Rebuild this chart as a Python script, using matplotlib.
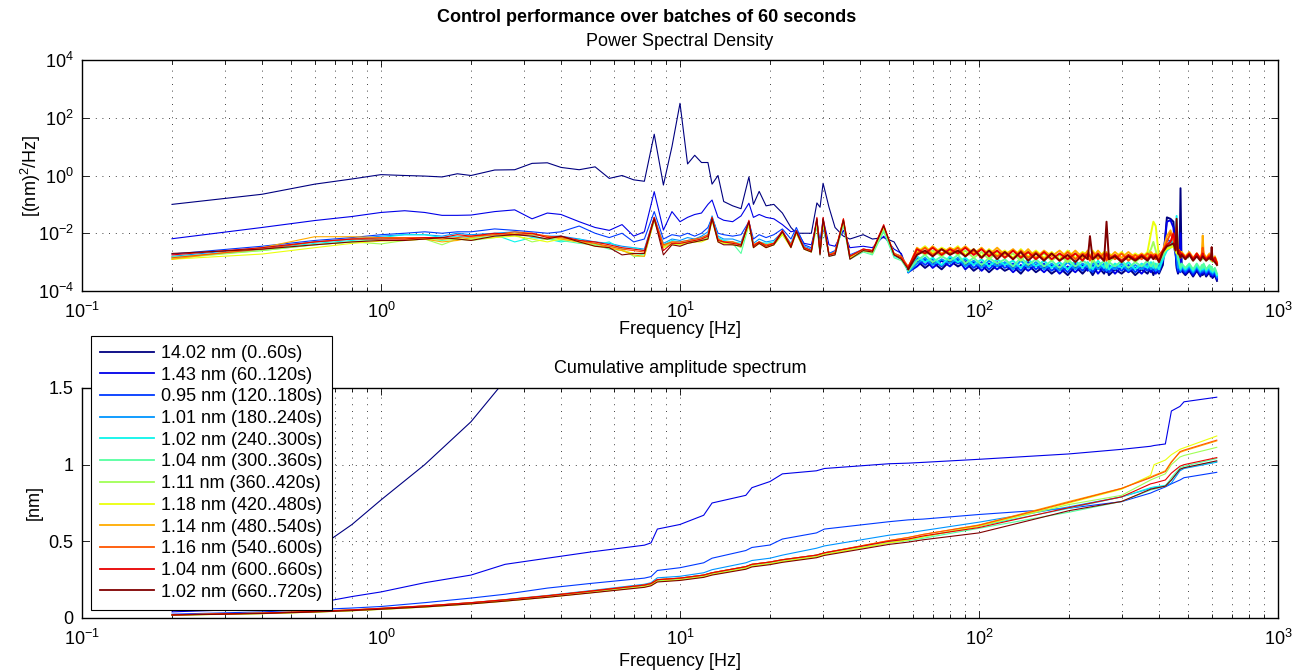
import numpy as np
import matplotlib
matplotlib.use('Agg')
import matplotlib.pyplot as plt
import matplotlib.ticker as ticker

plt.rcParams['font.family'] = ['Liberation Sans', 'DejaVu Sans']
plt.rcParams['mathtext.fontset'] = 'custom'
plt.rcParams['mathtext.rm'] = 'Liberation Sans'
plt.rcParams['mathtext.it'] = 'Liberation Sans:italic'
plt.rcParams['mathtext.bf'] = 'Liberation Sans:bold'
plt.rcParams['font.size'] = 13

# ---- frequency grids [Hz] ----
psd_freq = [0.2, 0.4, 0.6, 0.8, 1.0, 1.2, 1.4,
            1.6, 1.8, 2.0, 2.4, 2.8, 3.2, 3.6,
            4.0, 4.6, 5.2, 5.8, 6.4, 7.0, 7.6,
            8.2, 8.8, 9.4, 10.0, 10.6, 11.2, 11.8, 12.4, 12.8,
            13.4, 14.0, 15.0, 16.0, 17.0, 17.6, 18.4, 19.4, 20.6,
            22.0, 23.5, 24.5, 26.0, 27.5, 28.7, 29.4, 30.1, 31.5,
            33.0, 35.2, 37.0, 41.0, 44.0, 48.0, 52.0, 55.0, 58.0,
            62, 66, 70, 75, 80, 85, 90, 96,
            102, 108, 115, 122, 130, 138, 146, 155,
            165, 175, 186, 198, 210, 222, 231, 235,
            240, 250, 262, 267, 272, 285, 300, 316,
            333, 350, 366, 376, 383, 390, 400, 412,
            425, 437, 447, 454, 458, 463, 468, 472,
            476, 490, 505, 520, 535, 550, 556, 560,
            564, 575, 590, 596, 600, 604, 615, 625]

cas_freq = [0.2, 0.4, 0.6, 0.8, 1.0, 1.4, 2.0,
            2.6, 3.6, 5.0, 7.6, 8.0, 8.4, 10.0,
            12.0, 12.8, 16.6, 17.4, 20.0, 22.0, 28.6,
            30.4, 50, 58, 65, 100, 200, 300,
            375, 385, 420, 440, 470, 485, 624]

labels = ['14.02 nm (0..60s)', '1.43 nm (60..120s)', '0.95 nm (120..180s)',
          '1.01 nm (180..240s)', '1.02 nm (240..300s)', '1.04 nm (300..360s)',
          '1.11 nm (360..420s)', '1.18 nm (420..480s)', '1.14 nm (480..540s)',
          '1.16 nm (540..600s)', '1.04 nm (600..660s)', '1.02 nm (660..720s)']

# ---- PSD, log10 of (nm)^2/Hz, one list per 60 s batch ----
psd_b01 = [-1.0, -0.65, -0.3, -0.12, 0.03, 0.0, -0.02,
           -0.05, 0.06, 0.0, 0.19, 0.2, 0.42, 0.44,
           0.28, 0.2, 0.3, -0.1, 0.0, -0.15, -0.2,
           1.43, -0.33, 1.0, 2.5, 0.4, 0.7, 0.45, 0.45, -0.3,
           0.0, -0.9, -1.05, -1.15, -0.05, -1.0, -0.55, -1.05, -1.0,
           -1.3, -1.8, -2.0, -2.0, -2.0, -0.95, -1.1, -0.27, -1.1,
           -1.8, -2.1, -2.2, -2.05, -2.2, -2.15, -2.3, -2.75, -3.3,
           -2.95, -3.2, -3.0, -3.25, -2.95, -3.15, -3.0, -3.3,
           -3.1, -3.35, -3.1, -3.3, -3.15, -3.4, -3.1, -3.35,
           -3.15, -3.4, -3.2, -3.45, -3.15, -3.4, -3.2, -3.3,
           -3.45, -3.15, -3.4, -3.2, -3.45, -3.25, -3.4, -3.2,
           -3.45, -3.25, -3.4, -3.2, -3.45, -3.25, -3.4, -3.1,
           -1.45, -1.5, -1.6, -2.6, -3.2, -3.4, -3.3, -0.44,
           -3.3, -3.45, -3.3, -3.5, -3.3, -3.5, -3.35, -3.45,
           -3.3, -3.5, -3.35, -3.5, -3.4, -3.55, -3.45, -3.65]
psd_b02 = [-2.19, -1.8, -1.56, -1.42, -1.28, -1.22, -1.28,
           -1.38, -1.38, -1.37, -1.25, -1.19, -1.5, -1.3,
           -1.35, -1.6, -1.8, -1.9, -1.7, -2.1, -1.95,
           -0.56, -1.89, -1.25, -1.6, -1.45, -1.35, -1.3, -1.0, -0.85,
           -1.45, -1.55, -1.6, -1.4, -0.96, -1.45, -1.35, -1.45, -1.5,
           -1.7, -1.95, -1.9, -2.35, -2.4, -1.6, -2.3, -1.5, -2.4,
           -2.45, -1.9, -2.5, -2.45, -2.5, -2.1, -2.55, -2.7, -3.35,
           -3.15, -2.9, -3.2, -2.95, -3.15, -2.9, -3.25, -3.0,
           -3.3, -3.05, -3.25, -3.05, -3.35, -3.1, -3.3, -3.1,
           -3.35, -3.1, -3.4, -3.15, -3.35, -3.1, -3.3, -3.15,
           -3.1, -3.4, -3.15, -3.35, -3.15, -3.4, -3.15, -3.35,
           -3.2, -3.4, -3.15, -3.35, -3.2, -3.4, -3.15, -3.0,
           -1.6, -1.55, -1.8, -2.6, -3.1, -3.35, -3.25, -2.0,
           -3.25, -3.4, -3.25, -3.45, -3.25, -3.45, -3.3, -3.4,
           -3.25, -3.45, -3.3, -3.45, -3.35, -3.5, -3.4, -3.6]
psd_b03 = [-2.72, -2.45, -2.25, -2.15, -2.05, -2.0, -1.95,
           -2.0, -1.95, -1.95, -1.85, -1.9, -1.95, -2.0,
           -1.95, -1.75, -2.0, -2.15, -2.0, -2.3, -2.2,
           -1.25, -2.2, -2.05, -2.1, -2.0, -2.1, -2.0, -1.8, -1.45,
           -2.0, -2.05, -2.1, -2.05, -1.6, -2.2, -2.05, -2.15, -2.05,
           -1.85, -2.2, -1.8, -2.4, -2.5, -1.7, -2.6, -1.8, -2.7,
           -2.6, -1.7, -2.75, -2.55, -2.6, -1.9, -2.7, -2.8, -3.3,
           -2.85, -3.1, -2.9, -3.15, -2.85, -3.05, -2.9, -3.2,
           -3.0, -3.25, -3.0, -3.2, -3.05, -3.3, -3.0, -3.25,
           -3.05, -3.3, -3.1, -3.35, -3.05, -3.3, -3.1, -3.2,
           -3.35, -3.05, -3.3, -3.1, -3.35, -3.15, -3.3, -3.1,
           -3.35, -3.15, -3.3, -3.1, -3.3, -3.15, -3.35, -2.9,
           -2.2, -2.3, -2.4, -2.7, -2.9, -3.3, -3.2, -3.35,
           -3.2, -3.35, -3.2, -3.4, -3.2, -3.4, -3.25, -3.35,
           -3.2, -3.4, -3.25, -3.4, -3.3, -3.45, -3.35, -3.55]
psd_b04 = [-2.8, -2.5, -2.3, -2.2, -2.1, -2.05, -2.05,
           -2.1, -2.0, -2.05, -2.0, -1.95, -2.05, -2.1,
           -2.1, -2.2, -2.3, -2.35, -2.45, -2.5, -2.55,
           -1.45, -2.35, -2.2, -2.25, -2.15, -2.2, -2.1, -1.95, -1.4,
           -2.1, -2.2, -2.2, -2.3, -1.6, -2.35, -2.2, -2.3, -2.25,
           -1.95, -2.35, -1.9, -2.45, -2.55, -1.6, -2.65, -1.7, -2.7,
           -2.65, -1.6, -2.8, -2.6, -2.65, -1.85, -2.75, -2.85, -3.35,
           -3.05, -2.85, -3.1, -2.9, -3.05, -2.85, -3.15, -2.95,
           -3.2, -2.95, -3.15, -3.0, -3.25, -2.95, -3.2, -3.0,
           -3.25, -3.05, -3.3, -3.0, -3.25, -3.05, -3.15, -3.3,
           -3.0, -3.25, -3.05, -3.3, -3.1, -3.25, -3.05, -3.3,
           -3.1, -3.25, -3.05, -3.25, -3.1, -3.3, -3.1, -2.85,
           -2.4, -2.3, -2.2, -2.5, -2.6, -3.2, -3.15, -3.3,
           -3.15, -3.3, -3.15, -3.35, -3.15, -3.35, -3.2, -3.3,
           -3.15, -3.35, -3.2, -3.35, -3.25, -3.4, -3.3, -3.5]
psd_b05 = [-2.85, -2.55, -2.35, -2.25, -2.15, -2.05, -2.05,
           -2.15, -2.1, -2.15, -2.05, -2.3, -2.15, -2.2,
           -2.3, -2.2, -2.4, -2.3, -2.55, -2.5, -2.6,
           -1.5, -2.4, -2.25, -2.3, -2.25, -2.2, -2.15, -2.05, -1.45,
           -2.15, -2.25, -2.3, -2.35, -1.65, -2.4, -2.3, -2.35, -2.3,
           -2.0, -2.4, -1.95, -2.5, -2.6, -1.7, -2.7, -1.6, -2.75,
           -2.7, -1.65, -2.85, -2.6, -2.7, -1.9, -2.8, -2.9, -3.3,
           -2.8, -3.0, -2.85, -3.1, -2.8, -3.0, -2.85, -3.1,
           -2.9, -3.15, -2.9, -3.1, -2.95, -3.2, -2.9, -3.15,
           -2.95, -3.2, -3.0, -3.25, -2.95, -3.2, -3.0, -3.1,
           -3.25, -2.95, -3.2, -3.0, -3.25, -3.05, -3.2, -3.0,
           -3.25, -3.05, -3.2, -3.0, -3.2, -3.05, -3.25, -2.9,
           -2.6, -2.5, -2.2, -2.4, -1.4, -2.6, -3.1, -3.25,
           -3.1, -3.25, -3.1, -3.3, -3.1, -3.3, -3.15, -3.25,
           -3.1, -3.3, -3.15, -3.3, -3.2, -3.35, -3.25, -3.45]
psd_b06 = [-2.82, -2.6, -2.4, -2.3, -2.2, -2.15, -2.2,
           -2.25, -2.2, -2.2, -2.1, -2.05, -2.1, -2.2,
           -2.25, -2.35, -2.4, -2.55, -2.6, -2.7, -2.75,
           -1.55, -2.5, -2.35, -2.4, -2.35, -2.3, -2.25, -2.15, -1.5,
           -2.25, -2.35, -2.35, -2.7, -1.7, -2.45, -2.35, -2.45, -2.4,
           -2.05, -2.45, -2.0, -2.55, -2.65, -1.75, -2.75, -1.65, -2.8,
           -2.75, -1.7, -2.9, -2.65, -2.75, -1.95, -2.85, -2.95, -3.3,
           -2.95, -2.75, -3.0, -2.8, -2.95, -2.75, -3.05, -2.85,
           -3.1, -2.85, -3.05, -2.9, -3.15, -2.85, -3.1, -2.9,
           -3.15, -2.95, -3.2, -2.9, -3.15, -2.95, -3.05, -3.2,
           -2.9, -3.15, -2.95, -3.2, -3.0, -3.15, -2.95, -3.2,
           -3.0, -3.15, -2.95, -3.15, -3.0, -3.2, -3.0, -2.8,
           -2.5, -2.45, -2.4, -2.6, -2.5, -2.9, -3.05, -3.2,
           -3.05, -3.2, -3.05, -3.25, -3.05, -3.25, -3.1, -3.2,
           -3.05, -3.25, -3.1, -3.25, -3.15, -3.3, -3.2, -3.4]
psd_b07 = [-2.88, -2.6, -2.4, -2.3, -2.37, -2.25, -2.2,
           -2.4, -2.2, -2.25, -2.15, -2.05, -2.3, -2.2,
           -2.15, -2.3, -2.4, -2.45, -2.55, -2.8, -2.8,
           -1.55, -2.45, -2.35, -2.4, -2.3, -2.3, -2.25, -2.15, -1.55,
           -2.25, -2.35, -2.35, -2.5, -1.7, -2.45, -2.35, -2.45, -2.4,
           -2.0, -2.45, -2.0, -2.55, -2.6, -1.65, -2.7, -1.7, -2.75,
           -2.7, -1.65, -2.85, -2.6, -2.7, -1.85, -2.75, -2.9, -3.25,
           -2.55, -2.75, -2.6, -2.8, -2.55, -2.75, -2.6, -2.85,
           -2.65, -2.9, -2.65, -2.85, -2.7, -2.95, -2.65, -2.9,
           -2.7, -2.95, -2.75, -3.0, -2.7, -2.95, -2.75, -2.85,
           -3.0, -2.7, -2.95, -2.75, -3.0, -2.8, -2.95, -2.75,
           -3.0, -2.8, -2.75, -2.55, -2.3, -2.6, -2.95, -2.7,
           -2.5, -2.45, -2.35, -2.55, -2.6, -2.75, -2.7, -2.85,
           -2.7, -2.9, -2.75, -2.95, -2.75, -2.95, -2.8, -2.9,
           -2.75, -2.95, -2.8, -2.95, -2.85, -3.0, -2.9, -3.1]
psd_b08 = [-2.9, -2.72, -2.5, -2.35, -2.27, -2.25, -2.2,
           -2.2, -2.2, -2.2, -2.15, -2.1, -2.2, -2.3,
           -2.2, -2.3, -2.45, -2.5, -2.6, -2.7, -2.7,
           -1.55, -2.5, -2.4, -2.4, -2.35, -2.3, -2.3, -2.2, -1.55,
           -2.3, -2.35, -2.4, -2.45, -1.7, -2.5, -2.35, -2.5, -2.4,
           -2.05, -2.5, -2.0, -2.55, -2.65, -1.6, -2.7, -1.6, -2.75,
           -2.7, -1.6, -2.85, -2.6, -2.65, -1.8, -2.7, -2.85, -3.2,
           -2.65, -2.45, -2.7, -2.5, -2.65, -2.45, -2.75, -2.55,
           -2.8, -2.55, -2.75, -2.6, -2.85, -2.55, -2.8, -2.6,
           -2.85, -2.65, -2.9, -2.6, -2.85, -2.65, -2.75, -2.9,
           -2.6, -2.85, -2.65, -2.9, -2.7, -2.85, -2.65, -2.9,
           -2.7, -2.85, -2.65, -2.0, -1.6, -1.75, -2.85, -2.65,
           -2.55, -2.5, -2.45, -2.6, -2.7, -2.7, -2.65, -2.8,
           -2.65, -2.85, -2.7, -2.9, -2.7, -2.9, -2.75, -2.8,
           -2.7, -2.9, -2.75, -2.9, -2.8, -2.95, -2.85, -3.05]
psd_b09 = [-2.9, -2.5, -2.12, -2.12, -2.15, -2.2, -2.2,
           -2.3, -2.25, -2.15, -2.05, -2.0, -2.05, -2.1,
           -2.2, -2.3, -2.35, -2.5, -2.6, -2.75, -2.8,
           -1.5, -2.45, -2.3, -2.35, -2.3, -2.25, -2.2, -2.1, -1.5,
           -2.2, -2.3, -2.3, -2.4, -1.65, -2.4, -2.3, -2.4, -2.35,
           -1.95, -2.4, -1.95, -2.5, -2.6, -1.55, -2.65, -1.55, -2.75,
           -2.65, -1.55, -2.8, -2.55, -2.6, -1.75, -2.7, -2.8, -3.2,
           -2.5, -2.7, -2.45, -2.7, -2.5, -2.65, -2.45, -2.7,
           -2.5, -2.75, -2.5, -2.75, -2.55, -2.8, -2.55, -2.85,
           -2.6, -2.8, -2.6, -2.85, -2.6, -2.85, -2.6, -2.75,
           -2.85, -2.6, -2.85, -2.65, -2.85, -2.65, -2.85, -2.65,
           -2.85, -2.7, -2.85, -2.65, -2.75, -2.7, -2.85, -2.6,
           -2.1, -1.9, -2.2, -2.5, -1.8, -2.55, -2.6, -2.75,
           -2.65, -2.8, -2.65, -2.85, -2.7, -2.85, -2.7, -2.08,
           -2.7, -2.85, -2.7, -2.85, -2.75, -2.9, -2.8, -3.0]
psd_b10 = [-2.85, -2.55, -2.3, -2.2, -2.15, -2.15, -2.15,
           -2.2, -2.15, -2.1, -2.05, -1.95, -2.0, -2.1,
           -2.15, -2.25, -2.35, -2.45, -2.55, -2.6, -2.65,
           -1.45, -2.4, -2.3, -2.3, -2.25, -2.2, -2.15, -2.05, -1.45,
           -2.2, -2.3, -2.3, -2.4, -1.6, -2.4, -2.3, -2.4, -2.35,
           -1.95, -2.4, -1.95, -2.5, -2.6, -1.5, -2.65, -1.5, -2.75,
           -2.65, -1.5, -2.8, -2.55, -2.6, -1.75, -2.7, -2.8, -3.15,
           -2.7, -2.5, -2.75, -2.55, -2.7, -2.5, -2.8, -2.6,
           -2.85, -2.6, -2.8, -2.65, -2.9, -2.6, -2.85, -2.65,
           -2.9, -2.7, -2.95, -2.65, -2.9, -2.7, -2.8, -2.95,
           -2.65, -2.9, -2.7, -2.95, -2.75, -2.9, -2.7, -2.95,
           -2.75, -2.9, -2.7, -2.8, -2.75, -2.9, -2.75, -2.6,
           -2.3, -2.0, -2.25, -2.5, -2.3, -2.6, -2.65, -2.8,
           -2.7, -2.85, -2.7, -2.9, -2.75, -2.9, -2.75, -2.5,
           -2.75, -2.9, -2.75, -2.9, -2.8, -2.95, -2.85, -3.05]
psd_b11 = [-2.75, -2.5, -2.3, -2.2, -2.2, -2.2, -2.15,
           -2.15, -2.05, -2.1, -2.0, -2.05, -2.0, -2.15,
           -2.1, -2.25, -2.3, -2.4, -2.5, -2.55, -2.6,
           -1.45, -2.6, -2.35, -2.35, -2.3, -2.25, -2.2, -2.1, -1.45,
           -2.25, -2.3, -2.35, -2.4, -1.55, -2.45, -2.3, -2.45, -2.35,
           -1.9, -2.45, -1.9, -2.5, -2.6, -1.45, -2.7, -1.45, -2.75,
           -2.7, -1.5, -2.8, -2.55, -2.6, -1.7, -2.75, -2.85, -3.2,
           -2.55, -2.7, -2.5, -2.75, -2.55, -2.7, -2.5, -2.75,
           -2.55, -2.8, -2.6, -2.85, -2.6, -2.85, -2.65, -2.9,
           -2.65, -2.9, -2.7, -2.9, -2.7, -2.95, -2.7, -2.8,
           -2.9, -2.7, -2.95, -2.7, -2.9, -2.75, -2.95, -2.75,
           -2.9, -2.75, -2.9, -2.75, -2.85, -2.75, -2.95, -2.6,
           -2.4, -2.3, -2.0, -2.45, -2.5, -2.65, -2.6, -2.75,
           -2.7, -2.85, -2.7, -2.9, -2.7, -2.9, -2.8, -2.7,
           -2.8, -2.9, -2.8, -2.9, -2.85, -2.95, -2.85, -3.05]
psd_b12 = [-2.7, -2.55, -2.4, -2.3, -2.25, -2.25, -2.2,
           -2.15, -2.2, -2.25, -2.1, -2.05, -2.1, -2.2,
           -2.1, -2.3, -2.45, -2.5, -2.75, -2.7, -2.7,
           -1.5, -2.75, -2.4, -2.45, -2.35, -2.3, -2.25, -2.2, -1.5,
           -2.3, -2.4, -2.4, -2.45, -1.6, -2.5, -2.35, -2.5, -2.4,
           -1.95, -2.5, -1.95, -2.55, -2.65, -1.5, -2.75, -1.5, -2.8,
           -2.75, -1.55, -2.9, -2.6, -2.65, -1.75, -2.75, -2.9, -3.25,
           -2.75, -2.6, -2.8, -2.55, -2.75, -2.6, -2.8, -2.55,
           -2.85, -2.6, -2.9, -2.65, -2.9, -2.65, -2.95, -2.7,
           -2.95, -2.7, -2.95, -2.75, -3.0, -2.75, -2.9, -2.1,
           -2.9, -2.75, -2.95, -1.6, -2.9, -2.8, -3.0, -2.8,
           -2.95, -2.8, -2.95, -2.8, -2.9, -2.8, -3.0, -2.65,
           -2.45, -2.4, -2.35, -2.6, -1.5, -2.7, -2.75, -2.85,
           -2.75, -2.9, -2.75, -2.95, -2.8, -2.95, -2.85, -2.8,
           -2.85, -2.95, -2.85, -2.9, -2.48, -2.9, -3.0, -3.1]

# ---- cumulative amplitude [nm] ----
cas_b01 = [0.14, 0.27, 0.44, 0.61, 0.77, 1.0, 1.28,
           1.55, 1.9, 2.3, 2.8, 3.0, 5.5, 12.5,
           13.2, 13.4, 13.6, 13.7, 13.8, 13.85, 13.9,
           13.95, 13.97, 13.98, 13.98, 13.99, 14.0, 14.0,
           14.0, 14.0, 14.0, 14.0, 14.01, 14.02, 14.02]
cas_b02 = [0.04, 0.06, 0.095, 0.14, 0.17, 0.23, 0.28,
           0.35, 0.39, 0.43, 0.475, 0.49, 0.58, 0.61,
           0.67, 0.75, 0.80, 0.85, 0.89, 0.94, 0.96,
           0.975, 1.006, 1.01, 1.015, 1.035, 1.07, 1.10,
           1.12, 1.125, 1.135, 1.35, 1.38, 1.41, 1.44]
cas_b03 = [0.025, 0.04, 0.055, 0.065, 0.075, 0.10, 0.13,
           0.155, 0.195, 0.225, 0.26, 0.27, 0.31, 0.328,
           0.36, 0.39, 0.44, 0.46, 0.476, 0.515, 0.555,
           0.58, 0.628, 0.64, 0.645, 0.675, 0.716, 0.759,
           0.815, 0.825, 0.855, 0.875, 0.90, 0.915, 0.95]
cas_b04 = [0.02, 0.032, 0.042, 0.052, 0.062, 0.078, 0.10,
           0.12, 0.147, 0.178, 0.22, 0.23, 0.262, 0.272,
           0.295, 0.315, 0.36, 0.375, 0.39, 0.41, 0.455,
           0.47, 0.54, 0.555, 0.57, 0.625, 0.725, 0.79,
           0.845, 0.85, 0.86, 0.88, 0.96, 0.975, 1.016]
cas_b05 = [0.02, 0.031, 0.041, 0.05, 0.06, 0.076, 0.097,
           0.116, 0.142, 0.172, 0.212, 0.222, 0.25, 0.26,
           0.28, 0.295, 0.335, 0.35, 0.365, 0.38, 0.41,
           0.425, 0.50, 0.515, 0.53, 0.60, 0.715, 0.79,
           0.85, 0.855, 0.865, 0.90, 0.97, 0.98, 1.02]
cas_b06 = [0.019, 0.03, 0.04, 0.049, 0.058, 0.073, 0.094,
           0.112, 0.138, 0.167, 0.206, 0.216, 0.243, 0.252,
           0.272, 0.287, 0.325, 0.34, 0.355, 0.37, 0.40,
           0.415, 0.49, 0.505, 0.52, 0.585, 0.69, 0.76,
           0.835, 0.84, 0.86, 0.915, 0.98, 0.99, 1.04]
cas_b07 = [0.019, 0.029, 0.039, 0.048, 0.057, 0.072, 0.093,
           0.111, 0.137, 0.166, 0.205, 0.215, 0.24, 0.25,
           0.27, 0.285, 0.325, 0.34, 0.355, 0.37, 0.40,
           0.415, 0.49, 0.51, 0.53, 0.60, 0.74, 0.80,
           0.90, 0.91, 0.94, 1.0, 1.05, 1.06, 1.113]
cas_b08 = [0.018, 0.028, 0.038, 0.047, 0.056, 0.071, 0.092,
           0.11, 0.135, 0.164, 0.203, 0.213, 0.238, 0.248,
           0.268, 0.283, 0.322, 0.337, 0.352, 0.367, 0.398,
           0.413, 0.49, 0.51, 0.53, 0.60, 0.75, 0.84,
           0.93, 1.0, 1.03, 1.065, 1.10, 1.11, 1.187]
cas_b09 = [0.02, 0.032, 0.043, 0.053, 0.063, 0.079, 0.10,
           0.119, 0.145, 0.175, 0.215, 0.225, 0.25, 0.26,
           0.28, 0.295, 0.335, 0.35, 0.365, 0.38, 0.41,
           0.425, 0.505, 0.525, 0.545, 0.607, 0.76, 0.846,
           0.92, 0.93, 0.96, 1.02, 1.08, 1.09, 1.155]
cas_b10 = [0.02, 0.031, 0.042, 0.052, 0.062, 0.078, 0.099,
           0.118, 0.144, 0.174, 0.214, 0.224, 0.25, 0.26,
           0.28, 0.295, 0.335, 0.35, 0.365, 0.38, 0.41,
           0.425, 0.505, 0.525, 0.545, 0.605, 0.755, 0.845,
           0.915, 0.925, 0.955, 1.015, 1.085, 1.095, 1.16]
cas_b11 = [0.021, 0.032, 0.043, 0.053, 0.063, 0.079, 0.10,
           0.119, 0.145, 0.175, 0.215, 0.225, 0.25, 0.26,
           0.28, 0.295, 0.335, 0.35, 0.365, 0.38, 0.41,
           0.425, 0.50, 0.515, 0.535, 0.59, 0.72, 0.79,
           0.875, 0.88, 0.90, 0.945, 0.99, 1.0, 1.046]
cas_b12 = [0.019, 0.029, 0.039, 0.048, 0.057, 0.072, 0.092,
           0.11, 0.135, 0.163, 0.20, 0.21, 0.235, 0.245,
           0.265, 0.28, 0.318, 0.333, 0.348, 0.363, 0.393,
           0.408, 0.48, 0.495, 0.51, 0.555, 0.70, 0.76,
           0.84, 0.845, 0.86, 0.90, 0.97, 0.98, 1.025]

psd_all = [psd_b01, psd_b02, psd_b03, psd_b04, psd_b05, psd_b06,
           psd_b07, psd_b08, psd_b09, psd_b10, psd_b11, psd_b12]
cas_all = [cas_b01, cas_b02, cas_b03, cas_b04, cas_b05, cas_b06,
           cas_b07, cas_b08, cas_b09, cas_b10, cas_b11, cas_b12]

colors = plt.cm.jet(np.linspace(0, 1, 12))

W, H = 1294, 672
fig = plt.figure(figsize=(W / 100, H / 100), dpi=100)
ax1 = fig.add_axes([82 / W, 1 - 291 / H, 1196 / W, 231 / H])
ax2 = fig.add_axes([82 / W, 1 - 618 / H, 1196 / W, 230 / H])

# the noisy part above ~58 Hz is drawn a bit heavier so it reads as a band
f = np.array(psd_freq)
split = int(np.searchsorted(f, 58.0))
for i, (vals, c) in enumerate(zip(psd_all, colors)):
    assert len(vals) == len(psd_freq), ('psd', i, len(vals), len(psd_freq))
    p = 10 ** np.array(vals)
    ax1.plot(f[:split + 1], p[:split + 1], color=c, lw=0.8)
    ax1.plot(f[split:], p[split:], color=c, lw=1.4)

handles = []
for i, (vals, c) in enumerate(zip(cas_all, colors)):
    assert len(vals) == len(cas_freq), ('cas', i, len(vals), len(cas_freq))
    h, = ax2.plot(cas_freq, vals, color=c, lw=0.8, label=labels[i])
    handles.append(h)

dots = (0, (1, 7))
for ax in (ax1, ax2):
    ax.set_xscale('log')
    ax.set_xlim(0.1, 1000)
    ax.grid(True, which='major', axis='both', linestyle=dots, color='k', linewidth=0.6)
    ax.grid(True, which='minor', axis='x', linestyle=dots, color='k', linewidth=0.6)
    ax.set_axisbelow(True)
    ax.tick_params(which='both', direction='in', top=True, right=True, labelsize=13)
    ax.tick_params(which='major', length=5, width=0.6, pad=8)
    ax.tick_params(which='minor', length=3, width=0.6)
    ax.tick_params(axis='y', pad=6)
    for s in ax.spines.values():
        s.set_linewidth(1.0)

ax1.set_yscale('log')
ax1.set_ylim(1e-4, 1e4)
ax1.yaxis.set_major_locator(ticker.FixedLocator([1e-4, 1e-2, 1e0, 1e2, 1e4]))
ax1.yaxis.set_minor_locator(ticker.NullLocator())
ax1.set_ylabel('[(nm)$^2$/Hz]')
ax1.yaxis.set_label_coords(-0.033, 0.5)
ax1.set_xlabel('Frequency [Hz]')
ax1.xaxis.set_label_coords(0.5, -0.165)
ax1.xaxis.label.set_va('center')
ax1.set_title('Power Spectral Density', fontsize=13, pad=10)

ax2.set_ylim(0, 1.5)
ax2.yaxis.set_major_locator(ticker.FixedLocator([0, 0.5, 1, 1.5]))
ax2.yaxis.set_major_formatter(ticker.FuncFormatter(lambda v, p: '%g' % v))
ax2.set_ylabel('[nm]')
ax2.yaxis.set_label_coords(-0.033, 0.5)
ax2.set_xlabel('Frequency [Hz]')
ax2.xaxis.set_label_coords(0.5, -0.187)
ax2.xaxis.label.set_va('center')
ax2.set_title('Cumulative amplitude spectrum', fontsize=13, pad=11)

fig.text(0.5, 1 - 18 / H, 'Control performance over batches of 60 seconds',
         ha='center', va='center', fontsize=13, fontweight='bold')

leg = ax2.legend(handles=handles, loc='upper left',
                 bbox_to_anchor=(91 / W, 1 - 336 / H), bbox_transform=fig.transFigure,
                 fontsize=13, frameon=True, fancybox=False, framealpha=1,
                 edgecolor='k', borderaxespad=0, borderpad=0.5,
                 handlelength=3.0, handletextpad=0.4, labelspacing=0.26)
leg.get_frame().set_linewidth(0.8)
leg.set_zorder(10)
for line in leg.get_lines():
    line.set_linewidth(1.3)

fig.savefig('out.png', dpi=100)
